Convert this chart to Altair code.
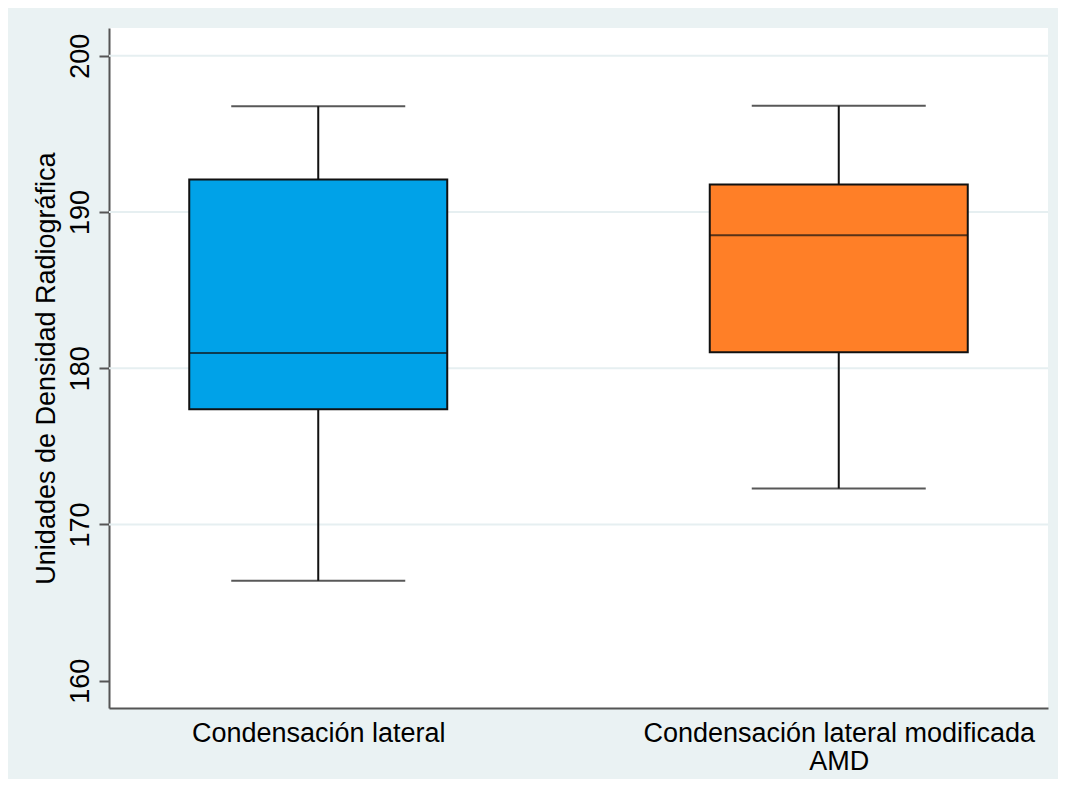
import altair as alt
import pandas as pd

categories = ["Condensación lateral", "Condensación lateral modificada|AMD"]
lower_whisker = [166.4, 172.3]
q1 = [177.37, 181.03]
median = [180.97, 188.51]
q3 = [192.08, 191.76]
upper_whisker = [196.77, 196.8]
box_colors = ["#00A2E8", "#FF7F27"]

grid_values = [170, 180, 190, 200]
y_ticks = [160, 170, 180, 190, 200]

df = pd.DataFrame({
    "cat": categories,
    "lower": lower_whisker,
    "q1": q1,
    "median": median,
    "q3": q3,
    "upper": upper_whisker,
})
grid_df = pd.DataFrame({"v": grid_values})

FONT = "Liberation Sans"
ydom = [158.25, 201.78]

x_enc = alt.X(
    "cat:N",
    sort=categories,
    scale=alt.Scale(type="point", padding=0.402),
    axis=alt.Axis(
        title=None,
        labelExpr="split(datum.label, '|')",
        labelAngle=0,
        labelFontSize=27,
        labelFont=FONT,
        labelColor="#000000",
        labelPadding=12,
        labelLineHeight=28,
        labelLimit=2000,
        ticks=False,
        domainColor="#555555",
        domainWidth=2,
        grid=False,
    ),
)

y_axis = alt.Axis(
    title="Unidades de Densidad Radiográfica",
    titleFont=FONT,
    titleFontSize=27,
    titleFontWeight="normal",
    titleColor="#000000",
    titleAngle=270,
    titlePadding=6,
    values=y_ticks,
    labelAngle=270,
    labelAlign="center",
    labelBaseline="alphabetic",
    labelFont=FONT,
    labelFontSize=27,
    labelColor="#000000",
    labelPadding=11,
    tickSize=10,
    tickWidth=2,
    tickColor="#555555",
    domainColor="#555555",
    domainWidth=2,
    grid=False,
)

y_scale = alt.Scale(domain=ydom, nice=False, zero=False)

grid = alt.Chart(grid_df).mark_rule(color="#E6EFF1", strokeWidth=2).encode(
    y=alt.Y("v:Q", scale=y_scale, axis=y_axis)
)

whisker = alt.Chart(df).mark_rule(color="#111111", strokeWidth=2).encode(
    x=x_enc,
    y=alt.Y("lower:Q", scale=y_scale),
    y2="upper:Q",
)

box = alt.Chart(df).mark_bar(size=258, stroke="#111111", strokeWidth=2).encode(
    x=x_enc,
    y=alt.Y("q1:Q", scale=y_scale),
    y2="q3:Q",
    color=alt.Color("cat:N", scale=alt.Scale(domain=categories, range=box_colors), legend=None),
)

med = alt.Chart(df).mark_tick(size=258, thickness=2, color="#111111").encode(
    x=x_enc,
    y=alt.Y("median:Q", scale=y_scale),
)

cap_low = alt.Chart(df).mark_tick(size=174, thickness=2, color="#111111").encode(
    x=x_enc,
    y=alt.Y("lower:Q", scale=y_scale),
)

cap_high = alt.Chart(df).mark_tick(size=174, thickness=2, color="#111111").encode(
    x=x_enc,
    y=alt.Y("upper:Q", scale=y_scale),
)

chart = (
    alt.layer(grid, whisker, box, med, cap_low, cap_high)
    .properties(
        width=939,
        height=680,
        background="#EAF2F3",
        padding={"left": 101, "top": 20, "right": 10, "bottom": 71},
        autosize=alt.AutoSizeParams(type="none"),
    )
    .configure_view(fill="#FFFFFF", stroke=None)
)

chart.save("out.html", embed_options={"renderer": "svg", "actions": False})
